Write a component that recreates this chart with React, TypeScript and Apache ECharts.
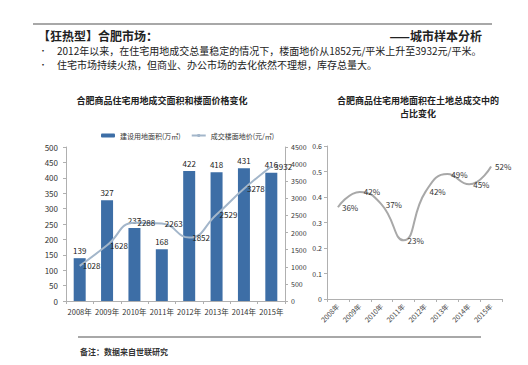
import React, { useEffect, useRef } from "react";
import * as echarts from "echarts";

const years = ["2008年", "2009年", "2010年", "2011年", "2012年", "2013年", "2014年", "2015年"];
const landArea = [139, 327, 237, 168, 422, 418, 431, 416];
const floorPrice = [1028, 1628, 2288, 2263, 1852, 2529, 3278, 3932];
const shareRatio = [0.36, 0.42, 0.37, 0.23, 0.42, 0.49, 0.45, 0.52];
const shareLabels = ["36%", "42%", "37%", "23%", "42%", "49%", "45%", "52%"];

const FONT = "'Noto Sans CJK SC', 'Liberation Sans', sans-serif";

export default function App() {
  const ref = useRef<HTMLDivElement>(null);
  useEffect(() => {
    document.body.style.margin = "0";
    const chart = echarts.init(ref.current!, null, { renderer: "svg" });
    const axisLine = { show: true, lineStyle: { color: "#b0b0b0", width: 1 } };
    const axisTick = { show: true, lineStyle: { color: "#b0b0b0" }, length: 3 };
    const labelStyle = { color: "#333", fontSize: 8, fontFamily: FONT };
    chart.setOption({
      animation: false,
      backgroundColor: "#ffffff",
      textStyle: { fontFamily: FONT },
      legend: {
        data: ["建设用地面积(万㎡)", "成交楼面地价(元/㎡)"],
        left: 96,
        top: 127,
        itemWidth: 14,
        itemHeight: 4,
        itemGap: 10,
        textStyle: { fontSize: 7, color: "#333", fontFamily: FONT },
      },
      grid: [
        { left: 66, right: 243, top: 147, bottom: 64 },
        { left: 327, right: 26, top: 146, bottom: 66 },
      ],
      xAxis: [
        {
          type: "category",
          gridIndex: 0,
          data: years,
          axisLine,
          axisTick: { ...axisTick, alignWithLabel: false },
          axisLabel: { ...labelStyle, fontSize: 7.5, margin: 7, interval: 0 },
        },
        {
          type: "category",
          gridIndex: 1,
          data: years,
          axisLine,
          axisTick: { ...axisTick, alignWithLabel: false },
          axisLabel: { ...labelStyle, color: "#444", fontSize: 7, rotate: 45, margin: 6, interval: 0 },
        },
      ],
      yAxis: [
        {
          type: "value",
          gridIndex: 0,
          min: 0,
          max: 500,
          interval: 50,
          axisLine,
          axisTick,
          splitLine: { show: false },
          axisLabel: { ...labelStyle, margin: 8 },
        },
        {
          type: "value",
          gridIndex: 0,
          position: "right",
          min: 0,
          max: 4500,
          interval: 500,
          axisLine,
          axisTick,
          splitLine: { show: false },
          axisLabel: { ...labelStyle, fontSize: 7, margin: 6, formatter: (v: number) => String(v) },
        },
        {
          type: "value",
          gridIndex: 1,
          min: 0,
          max: 0.6,
          interval: 0.1,
          axisLine,
          axisTick,
          splitLine: { show: false },
          axisLabel: { ...labelStyle, fontSize: 7, margin: 5 },
        },
      ],
      series: [
        {
          name: "建设用地面积(万㎡)",
          type: "bar",
          xAxisIndex: 0,
          yAxisIndex: 0,
          data: landArea,
          barWidth: 12,
          itemStyle: { color: "#3d6ea6" },
          label: { show: true, position: "top", fontSize: 8, color: "#222", distance: 4 },
        },
        {
          name: "成交楼面地价(元/㎡)",
          type: "line",
          xAxisIndex: 0,
          yAxisIndex: 1,
          data: floorPrice,
          smooth: true,
          symbol: "circle",
          symbolSize: 0.1,
          showSymbol: true,
          lineStyle: { color: "#a3b6ca", width: 2 },
          itemStyle: { color: "#a3b6ca" },
          label: { show: true, position: "right", fontSize: 8, color: "#222", distance: 3 },
        },
        {
          name: "占比",
          type: "line",
          xAxisIndex: 1,
          yAxisIndex: 2,
          data: shareRatio,
          smooth: true,
          symbol: "circle",
          symbolSize: 0.1,
          showSymbol: true,
          lineStyle: { color: "#a8a8a8", width: 2 },
          itemStyle: { color: "#a8a8a8" },
          label: {
            show: true,
            position: "right",
            fontSize: 8,
            color: "#333",
            distance: 4,
            formatter: (p: any) => shareLabels[p.dataIndex],
          },
        },
      ],
      graphic: [
        { type: "line", shape: { x1: 33, y1: 24, x2: 492, y2: 24 }, style: { stroke: "#a8a8a8", lineWidth: 2 } },
        {
          type: "text",
          left: 38,
          top: 29,
          style: { text: "【狂热型】合肥市场：", font: `bold 12px ${FONT}`, fill: "#222" },
        },
        {
          type: "text",
          right: 46,
          top: 29,
          style: { text: "——城市样本分析", font: `bold 12px ${FONT}`, fill: "#222" },
        },
        { type: "text", left: 39, top: 46, style: { text: "•", font: `8px ${FONT}`, fill: "#222" } },
        { type: "text", left: 39, top: 60, style: { text: "•", font: `8px ${FONT}`, fill: "#222" } },
        {
          type: "text",
          left: 57,
          top: 44,
          style: { text: "2012年以来，在住宅用地成交总量稳定的情况下，楼面地价从1852元/平米上升至3932元/平米。", font: `10px ${FONT}`, fill: "#222", lineHeight: 12 },
        },
        {
          type: "text",
          left: 57,
          top: 58,
          style: { text: "住宅市场持续火热，但商业、办公市场的去化依然不理想，库存总量大。", font: `10px ${FONT}`, fill: "#222", lineHeight: 12 },
        },
        {
          type: "text",
          x: 162,
          y: 100,
          style: { text: "合肥商品住宅用地成交面积和楼面价格变化", font: `bold 9px ${FONT}`, fill: "#222", align: "center", verticalAlign: "middle" },
        },
        {
          type: "text",
          x: 418,
          y: 100,
          style: { text: "合肥商品住宅用地面积在土地总成交中的", font: `bold 9px ${FONT}`, fill: "#222", align: "center", verticalAlign: "middle" },
        },
        {
          type: "text",
          x: 418,
          y: 113,
          style: { text: "占比变化", font: `bold 9px ${FONT}`, fill: "#222", align: "center", verticalAlign: "middle" },
        },
        { type: "line", shape: { x1: 78, y1: 337, x2: 481, y2: 337 }, style: { stroke: "#a8a8a8", lineWidth: 2 } },
        {
          type: "text",
          left: 80,
          top: 347,
          style: { text: "备注：数据来自世联研究", font: `bold 8px ${FONT}`, fill: "#333" },
        },
      ],
    });
    return () => chart.dispose();
  }, []);
  return <div ref={ref} style={{ width: 528, height: 365 }} />;
}
